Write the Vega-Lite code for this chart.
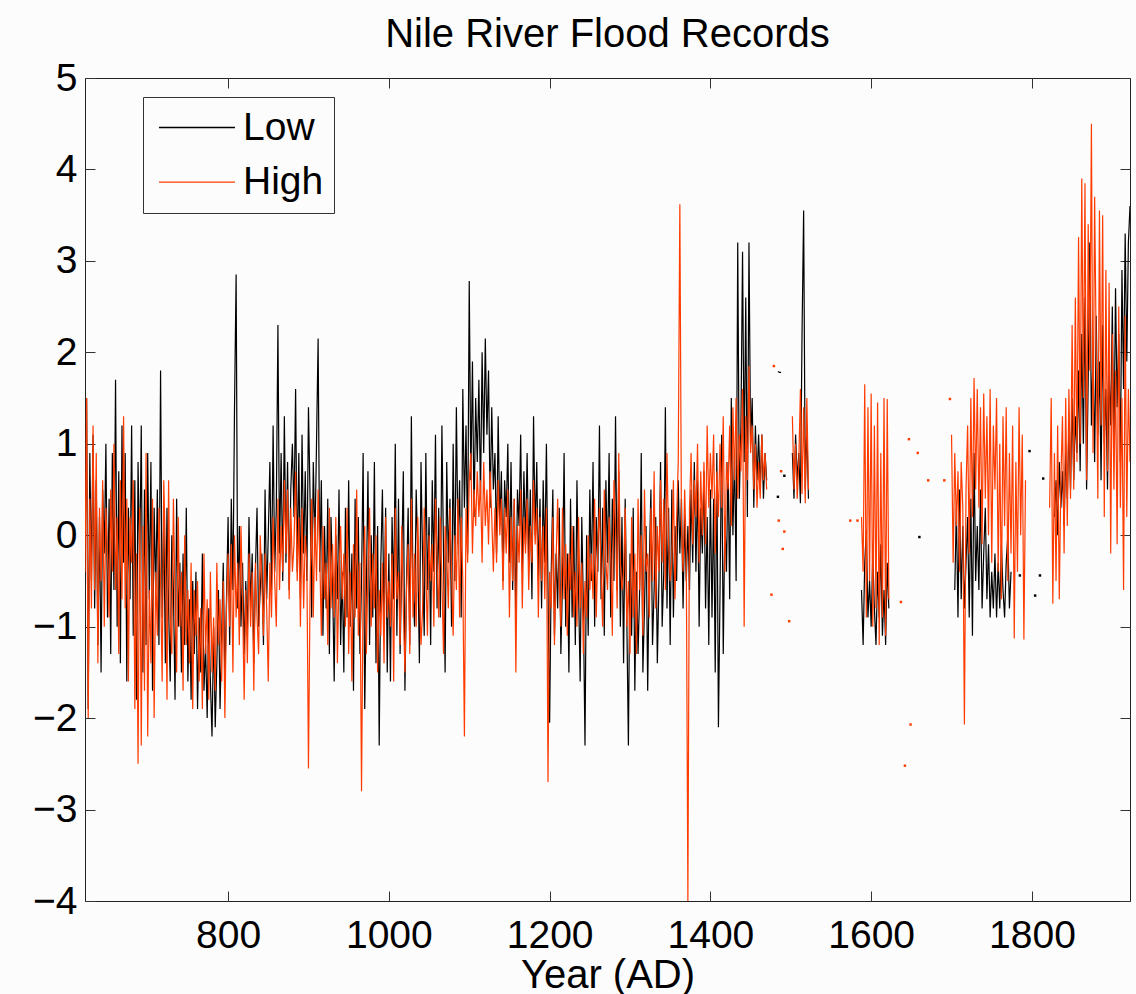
{
"$schema": "https://vega.github.io/schema/vega-lite/v6.json",
"width": 1045,
"height": 823,
"autosize": {"type": "none"},
"padding": {"left": 85, "top": 78, "right": 6, "bottom": 93},
"background": "#fcfcfc",
"title": {"text": "Nile River Flood Records", "fontSize": 40, "font": "Liberation Sans", "fontWeight": "normal", "color": "#000000", "offset": 4, "anchor": "middle"},
"datasets": {
"nile": [
{"t":622,"Low":-0.3,"High":-0.4},{"t":624,"Low":1.5,"High":1.5},{"t":626,"Low":-1.9,"High":-2.0},{"t":628,"Low":0.9,"High":0.4},{"t":630,"Low":-0.5,"High":-0.8},
{"t":632,"Low":1.1,"High":1.2},{"t":634,"Low":-0.8,"High":-0.6},{"t":636,"Low":0.6,"High":0.9},{"t":638,"Low":-1.2,"High":-1.4},{"t":640,"Low":0.2,"High":0.3},
{"t":642,"Low":-1.5,"High":-0.5},{"t":644,"Low":0.5,"High":0.6},{"t":646,"Low":-0.2,"High":-1.0},{"t":648,"Low":1.0,"High":0.3},{"t":650,"Low":-0.9,"High":-0.2},
{"t":652,"Low":0.4,"High":-0.9},{"t":654,"Low":-1.3,"High":0.5},{"t":656,"Low":0.9,"High":-0.4},{"t":658,"Low":-0.6,"High":1.0},{"t":660,"Low":1.7,"High":-0.6},
{"t":662,"Low":-1.0,"High":0.2},{"t":664,"Low":0.7,"High":-1.3},{"t":666,"Low":-1.4,"High":0.6},{"t":668,"Low":1.2,"High":-0.7},{"t":670,"Low":-0.3,"High":1.3},
{"t":672,"Low":0.9,"High":-0.8},{"t":674,"Low":-1.6,"High":0.4},{"t":676,"Low":0.3,"High":-1.6},{"t":678,"Low":-0.7,"High":0.2},{"t":680,"Low":1.2,"High":-0.3},
{"t":682,"Low":-1.1,"High":0.6},{"t":684,"Low":0.6,"High":-1.9},{"t":686,"Low":-1.8,"High":-0.2},{"t":688,"Low":0.8,"High":-2.5},{"t":690,"Low":-0.4,"High":0.3},
{"t":692,"Low":1.2,"High":-2.3},{"t":694,"Low":-1.5,"High":0.1},{"t":696,"Low":0.5,"High":-1.7},{"t":698,"Low":-1.2,"High":0.9},{"t":700,"Low":0.9,"High":-2.2},
{"t":702,"Low":-0.7,"High":-0.6},{"t":704,"Low":0.8,"High":-1.4},{"t":706,"Low":-1.7,"High":0.4},{"t":708,"Low":0.3,"High":-2.0},{"t":710,"Low":-0.6,"High":-0.4},
{"t":712,"Low":0.5,"High":-1.1},{"t":714,"Low":-1.2,"High":0.3},{"t":716,"Low":1.8,"High":-0.5},{"t":718,"Low":-0.9,"High":-1.6},{"t":720,"Low":0.2,"High":0.6},
{"t":722,"Low":-1.4,"High":-0.2},{"t":724,"Low":0.3,"High":-1.8},{"t":726,"Low":-0.8,"High":0.6},{"t":728,"Low":-1.6,"High":-0.9},{"t":730,"Low":0.0,"High":-1.3},
{"t":732,"Low":-0.6,"High":0.4},{"t":734,"Low":-1.8,"High":-0.7},{"t":736,"Low":0.4,"High":-1.5},{"t":738,"Low":-1.0,"High":0.2},{"t":740,"Low":-0.3,"High":-1.0},
{"t":742,"Low":-1.5,"High":-0.4},{"t":744,"Low":-0.2,"High":-1.7},{"t":746,"Low":-1.2,"High":0.0},{"t":748,"Low":0.3,"High":-1.2},{"t":750,"Low":-1.6,"High":-0.6},
{"t":752,"Low":-0.7,"High":-1.4},{"t":754,"Low":-1.8,"High":-0.3},{"t":756,"Low":-0.5,"High":-1.9},{"t":758,"Low":-1.3,"High":-0.6},{"t":760,"Low":-0.4,"High":-1.1},
{"t":762,"Low":-1.9,"High":-0.5},{"t":764,"Low":-0.9,"High":-1.6},{"t":766,"Low":-1.5,"High":-0.8},{"t":768,"Low":-0.2,"High":-1.9},{"t":770,"Low":-1.7,"High":-0.2},
{"t":772,"Low":-1.2,"High":-1.3},{"t":774,"Low":-2.0,"High":-0.7},{"t":776,"Low":-0.8,"High":-1.8},{"t":778,"Low":-1.6,"High":-0.4},{"t":780,"Low":-2.2,"High":-1.5},
{"t":782,"Low":-1.0,"High":-0.9},{"t":784,"Low":-2.1,"High":-1.7},{"t":786,"Low":-1.4,"High":-0.3},{"t":788,"Low":-0.6,"High":-1.2},{"t":790,"Low":-1.9,"High":-0.7},
{"t":792,"Low":-1.1,"High":-1.6},{"t":794,"Low":-0.3,"High":-0.5},{"t":796,"Low":-1.6,"High":-2.0},{"t":798,"Low":-0.7,"High":-0.8},{"t":800,"Low":0.2,"High":-0.2},
{"t":802,"Low":-1.2,"High":-1.0},{"t":804,"Low":0.4,"High":-0.1},{"t":806,"Low":-0.6,"High":-1.5},{"t":808,"Low":1.4,"High":0.0},{"t":810,"Low":2.85,"High":-0.9},
{"t":812,"Low":-0.8,"High":-0.3},{"t":814,"Low":0.1,"High":-1.2},{"t":816,"Low":-1.0,"High":0.1},{"t":818,"Low":-0.3,"High":-0.7},{"t":820,"Low":-1.3,"High":-1.8},
{"t":822,"Low":-0.5,"High":-0.6},{"t":824,"Low":-1.1,"High":-1.4},{"t":826,"Low":0.2,"High":-0.2},{"t":828,"Low":-0.8,"High":-1.0},{"t":830,"Low":-0.2,"High":-0.4},
{"t":832,"Low":-1.4,"High":-1.7},{"t":834,"Low":-0.4,"High":-0.3},{"t":836,"Low":0.3,"High":-0.9},{"t":838,"Low":-1.0,"High":-1.3},{"t":840,"Low":-0.6,"High":0.0},
{"t":842,"Low":-0.2,"High":-0.5},{"t":844,"Low":-1.2,"High":-1.1},{"t":846,"Low":0.5,"High":-0.2},{"t":848,"Low":-0.7,"High":-0.8},{"t":850,"Low":0.0,"High":-1.6},
{"t":852,"Low":0.8,"High":-0.3},{"t":854,"Low":-0.6,"High":-0.9},{"t":856,"Low":1.2,"High":0.2},{"t":858,"Low":-0.4,"High":-0.5},{"t":860,"Low":0.3,"High":-1.0},
{"t":862,"Low":2.3,"High":0.4},{"t":864,"Low":-0.2,"High":-0.6},{"t":866,"Low":0.9,"High":0.1},{"t":868,"Low":-0.5,"High":-0.4},{"t":870,"Low":1.3,"High":0.6},
{"t":872,"Low":-0.3,"High":-0.2},{"t":874,"Low":0.8,"High":0.5},{"t":876,"Low":-0.6,"High":-0.7},{"t":878,"Low":0.5,"High":0.3},{"t":880,"Low":1.0,"High":-0.4},
{"t":882,"Low":0.2,"High":-0.1},{"t":884,"Low":1.6,"High":0.7},{"t":886,"Low":-0.4,"High":-0.5},{"t":888,"Low":0.9,"High":0.2},{"t":890,"Low":-0.7,"High":-1.0},
{"t":892,"Low":1.1,"High":0.3},{"t":894,"Low":-0.2,"High":-0.8},{"t":896,"Low":0.7,"High":0.0},{"t":898,"Low":-0.5,"High":-0.3},{"t":900,"Low":1.4,"High":-2.55},
{"t":902,"Low":0.4,"High":-0.6},{"t":904,"Low":-0.9,"High":0.4},{"t":906,"Low":0.8,"High":-0.9},{"t":908,"Low":-0.1,"High":0.2},{"t":910,"Low":1.0,"High":-0.5},
{"t":912,"Low":2.15,"High":0.5},{"t":914,"Low":-0.4,"High":-0.2},{"t":916,"Low":0.6,"High":-1.1},{"t":918,"Low":-1.1,"High":0.1},{"t":920,"Low":0.1,"High":-0.7},
{"t":922,"Low":-0.8,"High":-0.3},{"t":924,"Low":0.4,"High":-1.2},{"t":926,"Low":-1.3,"High":0.3},{"t":928,"Low":0.2,"High":-0.8},{"t":930,"Low":-0.5,"High":-0.1},
{"t":932,"Low":-1.6,"High":-0.9},{"t":934,"Low":0.0,"High":0.2},{"t":936,"Low":-0.7,"High":-1.4},{"t":938,"Low":0.5,"High":-0.4},{"t":940,"Low":-1.2,"High":0.1},
{"t":942,"Low":-0.4,"High":-0.7},{"t":944,"Low":-1.5,"High":-0.2},{"t":946,"Low":0.3,"High":-1.0},{"t":948,"Low":-0.9,"High":0.3},{"t":950,"Low":0.6,"High":-1.3},
{"t":952,"Low":-1.0,"High":-0.4},{"t":954,"Low":-0.2,"High":-1.6},{"t":956,"Low":-1.7,"High":-0.1},{"t":958,"Low":0.4,"High":-0.9},{"t":960,"Low":-0.8,"High":0.5},
{"t":962,"Low":0.2,"High":-1.1},{"t":964,"Low":-1.3,"High":-0.3},{"t":966,"Low":-0.5,"High":-2.8},{"t":968,"Low":0.9,"High":-0.6},{"t":970,"Low":-1.9,"High":0.1},
{"t":972,"Low":-0.6,"High":-1.3},{"t":974,"Low":0.7,"High":-0.4},{"t":976,"Low":-1.2,"High":0.3},{"t":978,"Low":0.0,"High":-1.0},{"t":980,"Low":-0.9,"High":-0.2},
{"t":982,"Low":0.8,"High":-0.8},{"t":984,"Low":-1.4,"High":0.0},{"t":986,"Low":0.1,"High":-1.5},{"t":988,"Low":-2.3,"High":-0.6},{"t":990,"Low":-0.3,"High":-1.1},
{"t":992,"Low":0.5,"High":-0.3},{"t":994,"Low":-1.0,"High":-1.4},{"t":996,"Low":0.3,"High":0.2},{"t":998,"Low":-1.5,"High":-0.9},{"t":1000,"Low":-0.2,"High":-0.5},
{"t":1002,"Low":-1.6,"High":-1.0},{"t":1004,"Low":0.2,"High":-0.2},{"t":1006,"Low":-0.7,"High":-1.6},{"t":1008,"Low":1.0,"High":0.3},{"t":1010,"Low":-1.1,"High":-0.7},
{"t":1012,"Low":0.4,"High":-0.4},{"t":1014,"Low":-1.3,"High":-1.2},{"t":1016,"Low":-0.3,"High":0.1},{"t":1018,"Low":0.7,"High":-0.8},{"t":1020,"Low":-1.7,"High":-1.5},
{"t":1022,"Low":-0.5,"High":-0.6},{"t":1024,"Low":0.3,"High":-0.1},{"t":1026,"Low":-1.2,"High":-1.3},{"t":1028,"Low":1.3,"High":0.4},{"t":1030,"Low":-0.6,"High":-0.9},
{"t":1032,"Low":-1.0,"High":-0.2},{"t":1034,"Low":0.5,"High":-1.0},{"t":1036,"Low":-0.2,"High":0.2},{"t":1038,"Low":-1.4,"High":-0.6},{"t":1040,"Low":0.8,"High":-1.2},
{"t":1042,"Low":-0.3,"High":-0.8},{"t":1044,"Low":-1.1,"High":0.3},{"t":1046,"Low":0.9,"High":-0.4},{"t":1048,"Low":-0.6,"High":-1.1},{"t":1050,"Low":0.2,"High":0.0},
{"t":1052,"Low":-1.2,"High":-0.5},{"t":1054,"Low":0.6,"High":-0.1},{"t":1056,"Low":-0.4,"High":-1.0},{"t":1058,"Low":1.1,"High":0.4},{"t":1060,"Low":-0.8,"High":-0.3},
{"t":1062,"Low":0.3,"High":-0.9},{"t":1064,"Low":-0.9,"High":0.2},{"t":1066,"Low":1.2,"High":-0.5},{"t":1068,"Low":-0.2,"High":-1.3},{"t":1070,"Low":-1.5,"High":0.1},
{"t":1072,"Low":0.8,"High":-0.2},{"t":1074,"Low":-0.3,"High":-0.8},{"t":1076,"Low":0.4,"High":0.3},{"t":1078,"Low":-1.0,"High":-0.4},{"t":1080,"Low":1.0,"High":-1.1},
{"t":1082,"Low":-0.5,"High":0.0},{"t":1084,"Low":1.4,"High":-0.6},{"t":1086,"Low":-0.1,"High":0.4},{"t":1088,"Low":0.6,"High":-0.9},{"t":1090,"Low":-0.9,"High":0.2},
{"t":1092,"Low":1.6,"High":-0.5},{"t":1094,"Low":0.3,"High":-2.2},{"t":1096,"Low":1.2,"High":0.3},{"t":1098,"Low":-0.2,"High":-0.3},{"t":1100,"Low":2.78,"High":0.6},
{"t":1102,"Low":0.6,"High":0.9},{"t":1104,"Low":1.9,"High":-0.2},{"t":1106,"Low":0.2,"High":0.5},{"t":1108,"Low":1.5,"High":0.1},{"t":1110,"Low":0.8,"High":0.7},
{"t":1112,"Low":1.7,"High":0.2},{"t":1114,"Low":0.4,"High":0.6},{"t":1116,"Low":2.0,"High":-0.3},{"t":1118,"Low":0.9,"High":0.8},{"t":1120,"Low":2.15,"High":0.1},
{"t":1122,"Low":1.1,"High":0.5},{"t":1124,"Low":1.8,"High":-0.1},{"t":1126,"Low":0.3,"High":0.7},{"t":1128,"Low":1.4,"High":0.2},{"t":1130,"Low":0.5,"High":-0.4},
{"t":1132,"Low":0.9,"High":0.3},{"t":1134,"Low":-0.2,"High":-0.3},{"t":1136,"Low":1.3,"High":0.6},{"t":1138,"Low":0.1,"High":0.0},{"t":1140,"Low":0.7,"High":0.4},
{"t":1142,"Low":-0.5,"High":-0.6},{"t":1144,"Low":0.6,"High":0.3},{"t":1146,"Low":0.2,"High":-0.2},{"t":1148,"Low":1.0,"High":0.5},{"t":1150,"Low":-0.3,"High":-0.9},
{"t":1152,"Low":0.8,"High":0.2},{"t":1154,"Low":-0.6,"High":-0.5},{"t":1156,"Low":0.4,"High":0.4},{"t":1158,"Low":-0.9,"High":-1.5},{"t":1160,"Low":0.5,"High":0.1},
{"t":1162,"Low":0.1,"High":-0.3},{"t":1164,"Low":1.1,"High":0.5},{"t":1166,"Low":-0.4,"High":-0.8},{"t":1168,"Low":0.7,"High":0.2},{"t":1170,"Low":-0.1,"High":-0.2},
{"t":1172,"Low":0.9,"High":0.4},{"t":1174,"Low":-0.3,"High":-0.6},{"t":1176,"Low":0.5,"High":0.1},{"t":1178,"Low":-0.7,"High":-0.3},{"t":1180,"Low":1.3,"High":0.6},
{"t":1182,"Low":0.0,"High":-0.1},{"t":1184,"Low":0.8,"High":0.3},{"t":1186,"Low":-0.5,"High":-0.9},{"t":1188,"Low":0.4,"High":0.2},{"t":1190,"Low":-0.8,"High":-0.5},
{"t":1192,"Low":0.6,"High":0.1},{"t":1194,"Low":-0.3,"High":-0.7},{"t":1196,"Low":1.0,"High":0.3},{"t":1198,"Low":-0.6,"High":-2.7},{"t":1200,"Low":-2.05,"High":-0.4},
{"t":1202,"Low":-0.4,"High":-0.8},{"t":1204,"Low":0.5,"High":0.2},{"t":1206,"Low":-1.1,"High":-1.2},{"t":1208,"Low":-0.2,"High":-0.3},{"t":1210,"Low":-0.8,"High":0.4},
{"t":1212,"Low":0.3,"High":-0.5},{"t":1214,"Low":-1.3,"High":-1.0},{"t":1216,"Low":-0.5,"High":0.3},{"t":1218,"Low":0.9,"High":-0.7},{"t":1220,"Low":-1.0,"High":-0.1},
{"t":1222,"Low":-0.2,"High":-1.1},{"t":1224,"Low":-1.5,"High":-0.2},{"t":1226,"Low":0.4,"High":-0.6},{"t":1228,"Low":-0.9,"High":0.1},{"t":1230,"Low":0.1,"High":-0.9},
{"t":1232,"Low":-1.2,"High":-0.4},{"t":1234,"Low":0.6,"High":-1.0},{"t":1236,"Low":-0.6,"High":0.2},{"t":1238,"Low":-1.6,"High":-0.8},{"t":1240,"Low":0.2,"High":-0.3},
{"t":1242,"Low":-0.8,"High":-1.3},{"t":1244,"Low":-2.3,"High":-0.5},{"t":1246,"Low":0.0,"High":-0.9},{"t":1248,"Low":-1.1,"High":0.0},{"t":1250,"Low":0.5,"High":-0.6},
{"t":1252,"Low":-0.5,"High":-0.2},{"t":1254,"Low":0.8,"High":-0.7},{"t":1256,"Low":-1.0,"High":0.4},{"t":1258,"Low":0.2,"High":-0.9},{"t":1260,"Low":-0.4,"High":-0.1},
{"t":1262,"Low":1.2,"High":0.3},{"t":1264,"Low":-0.7,"High":-0.4},{"t":1266,"Low":0.3,"High":-1.0},{"t":1268,"Low":-1.1,"High":0.5},{"t":1270,"Low":0.6,"High":-0.3},
{"t":1272,"Low":-0.3,"High":-0.6},{"t":1274,"Low":0.9,"High":0.2},{"t":1276,"Low":-0.9,"High":-0.2},{"t":1278,"Low":0.4,"High":-1.1},{"t":1280,"Low":-0.5,"High":0.6},
{"t":1282,"Low":1.3,"High":0.1},{"t":1284,"Low":-0.6,"High":-0.8},{"t":1286,"Low":0.7,"High":0.9},{"t":1288,"Low":-1.0,"High":-0.3},{"t":1290,"Low":0.2,"High":-0.6},
{"t":1292,"Low":-1.4,"High":-0.4},{"t":1294,"Low":0.4,"High":0.3},{"t":1296,"Low":-0.9,"High":-1.0},{"t":1298,"Low":-2.3,"High":-0.5},{"t":1300,"Low":-0.2,"High":-1.3},
{"t":1302,"Low":-1.1,"High":0.2},{"t":1304,"Low":0.3,"High":-0.9},{"t":1306,"Low":-1.7,"High":-0.2},{"t":1308,"Low":-0.4,"High":-1.3},{"t":1310,"Low":-1.3,"High":0.4},
{"t":1312,"Low":-0.6,"High":-0.6},{"t":1314,"Low":0.9,"High":0.0},{"t":1316,"Low":-1.5,"High":-1.1},{"t":1318,"Low":-0.8,"High":0.5},{"t":1320,"Low":0.1,"High":-0.4},
{"t":1322,"Low":-1.7,"High":-0.2},{"t":1324,"Low":-0.3,"High":-0.9},{"t":1326,"Low":0.5,"High":0.3},{"t":1328,"Low":-1.2,"High":-0.5},{"t":1330,"Low":-0.6,"High":0.7},
{"t":1332,"Low":0.2,"High":-0.8},{"t":1334,"Low":-1.4,"High":0.1},{"t":1336,"Low":-0.5,"High":-0.4},{"t":1338,"Low":0.8,"High":0.6},{"t":1340,"Low":-1.0,"High":-0.3},
{"t":1342,"Low":-0.4,"High":0.4},{"t":1344,"Low":1.4,"High":-0.6},{"t":1346,"Low":-0.8,"High":0.9},{"t":1348,"Low":0.3,"High":-0.1},{"t":1350,"Low":-1.2,"High":-0.5},
{"t":1352,"Low":0.5,"High":-0.3},{"t":1354,"Low":-0.9,"High":0.6},{"t":1356,"Low":0.1,"High":-0.7},{"t":1358,"Low":-0.5,"High":0.2},{"t":1360,"Low":0.6,"High":0.8},
{"t":1362,"Low":-0.2,"High":3.62},{"t":1364,"Low":0.4,"High":0.1},{"t":1366,"Low":-0.8,"High":-0.4},{"t":1368,"Low":0.2,"High":0.5},{"t":1370,"Low":-0.5,"High":-0.2},
{"t":1372,"Low":0.1,"High":-4.0},{"t":1374,"Low":-0.6,"High":0.3},{"t":1376,"Low":0.5,"High":0.9},{"t":1378,"Low":-0.3,"High":-0.1},{"t":1380,"Low":0.8,"High":0.6},
{"t":1382,"Low":-0.4,"High":0.2},{"t":1384,"Low":0.6,"High":1.0},{"t":1386,"Low":-1.0,"High":-0.3},{"t":1388,"Low":0.3,"High":0.7},{"t":1390,"Low":-0.2,"High":0.0},
{"t":1392,"Low":0.7,"High":0.8},{"t":1394,"Low":-0.8,"High":-0.1},{"t":1396,"Low":0.2,"High":1.2},{"t":1398,"Low":-1.2,"High":0.3},{"t":1400,"Low":0.5,"High":0.9},
{"t":1402,"Low":-0.9,"High":0.4},{"t":1404,"Low":0.4,"High":1.1},{"t":1406,"Low":-1.5,"High":-0.2},{"t":1408,"Low":0.9,"High":0.7},{"t":1410,"Low":-2.1,"High":0.2},
{"t":1412,"Low":-0.6,"High":1.0},{"t":1414,"Low":1.1,"High":0.3},{"t":1416,"Low":-1.3,"High":1.3},{"t":1418,"Low":0.2,"High":-0.4},{"t":1420,"Low":-0.4,"High":0.8},
{"t":1422,"Low":0.8,"High":0.5},{"t":1424,"Low":-0.7,"High":1.2},{"t":1426,"Low":1.5,"High":0.1},{"t":1428,"Low":0.0,"High":1.4},{"t":1430,"Low":0.9,"High":0.6},
{"t":1432,"Low":-0.5,"High":1.5},{"t":1434,"Low":3.2,"High":0.4},{"t":1436,"Low":0.4,"High":1.1},{"t":1438,"Low":1.2,"High":0.7},{"t":1440,"Low":3.1,"High":1.6},
{"t":1442,"Low":0.8,"High":-1.0},{"t":1444,"Low":2.6,"High":1.3},{"t":1446,"Low":0.2,"High":0.6},{"t":1448,"Low":3.2,"High":1.85},{"t":1450,"Low":1.0,"High":0.9},
{"t":1452,"Low":1.5,"High":1.2},{"t":1454,"Low":0.3,"High":0.5},{"t":1456,"Low":1.2,"High":1.0},{"t":1458,"Low":0.6,"High":0.3},{"t":1460,"Low":1.1,"High":0.8},
{"t":1462,"Low":0.5,"High":0.4},{"t":1464,"Low":1.1,"High":1.1},{"t":1466,"Low":0.4,"High":0.6},{"t":1468,"Low":0.9,"High":0.9},{"t":1470,"Low":0.6,"High":0.5},
{"t":1472},
{"t":1484,"Low":1.79},{"t":1486,"Low":1.78},{"t":1488,"Low":1.78},{"t":1490},
{"t":1502,"Low":0.9,"High":1.3},{"t":1504,"Low":0.4,"High":0.5},{"t":1506,"Low":1.1,"High":1.0},{"t":1508,"Low":0.6,"High":0.4},{"t":1510,"Low":0.9,"High":0.8},{"t":1512,"Low":0.35,"High":1.6},{"t":1514,"Low":2.2,"High":0.45},{"t":1516,"Low":3.55,"High":1.4},{"t":1518,"Low":0.5,"High":0.35},{"t":1520,"Low":1.2,"High":1.5},{"t":1522,"Low":0.4,"High":0.5},{"t":1524},
{"t":1588,"Low":-0.6,"High":0.2},{"t":1590,"Low":-1.2,"High":-0.4},{"t":1592,"Low":-0.3,"High":1.65},{"t":1594,"Low":0.05,"High":-0.9},{"t":1596,"Low":-0.9,"High":1.4},{"t":1598,"Low":-0.5,"High":-0.5},{"t":1600,"Low":-1.0,"High":1.55},{"t":1602,"Low":-0.2,"High":-1.0},{"t":1604,"Low":-0.8,"High":1.2},{"t":1606,"Low":-1.2,"High":-0.8},{"t":1608,"Low":-0.4,"High":1.45},{"t":1610,"Low":-0.9,"High":-1.2},{"t":1612,"Low":-0.1,"High":0.9},{"t":1614,"Low":-1.1,"High":-0.9},{"t":1616,"Low":-0.6,"High":1.5},{"t":1618,"Low":-1.2,"High":-1.1},{"t":1620,"Low":-0.3,"High":1.49},{"t":1622,"Low":-0.8,"High":-0.7},{"t":1624},
{"t":1700,"High":1.1},{"t":1702,"High":-0.3},{"t":1704,"Low":-0.6,"High":0.9},{"t":1706,"Low":0.3,"High":0.1},{"t":1708,"Low":-0.9,"High":0.7},{"t":1710,"Low":0.5,"High":-0.4},{"t":1712,"Low":-0.7,"High":0.8},{"t":1714,"Low":0.1,"High":0.3},{"t":1716,"Low":-0.8,"High":-2.07},{"t":1718,"Low":-0.3,"High":0.5},{"t":1720,"Low":0.2,"High":1.2},
{"t":1722,"Low":-0.9,"High":-0.2},{"t":1724,"Low":0.4,"High":1.5},{"t":1726,"Low":-1.1,"High":0.2},{"t":1728,"Low":0.9,"High":1.72},{"t":1730,"Low":-0.5,"High":0.5},{"t":1732,"Low":0.1,"High":1.6},{"t":1734,"Low":-0.6,"High":0.3},{"t":1736,"Low":0.5,"High":1.4},{"t":1738,"Low":-0.8,"High":-0.1},{"t":1740,"Low":-0.2,"High":1.55},
{"t":1742,"Low":0.3,"High":0.4},{"t":1744,"Low":-0.7,"High":1.3},{"t":1746,"Low":-0.1,"High":0.0},{"t":1748,"Low":-0.9,"High":1.6},{"t":1750,"Low":-0.4,"High":-0.3},{"t":1752,"Low":-0.8,"High":1.2},{"t":1754,"Low":-0.2,"High":0.5},{"t":1756,"Low":-0.9,"High":1.5},{"t":1758,"Low":-0.3,"High":-0.4},{"t":1760,"Low":-0.8,"High":1.0},
{"t":1762,"Low":-0.1,"High":-0.7},{"t":1764,"Low":-0.6,"High":1.3},{"t":1766,"Low":-0.9,"High":0.1},{"t":1768,"Low":-0.3,"High":1.4},{"t":1770,"Low":0.0,"High":-0.5},{"t":1772,"Low":-0.8,"High":0.9},{"t":1774,"Low":-0.4,"High":-0.2},{"t":1776,"High":1.2},{"t":1778,"High":-1.13},{"t":1780,"High":0.8},
{"t":1782,"High":-0.4},{"t":1784,"High":1.4},{"t":1786,"High":0.0},{"t":1788,"High":1.1},{"t":1790,"High":-1.14},{"t":1792,"High":0.6},{"t":1794},
{"t":1822,"High":0.3},{"t":1824,"High":1.5},{"t":1826,"High":-0.75},{"t":1828,"Low":0.2,"High":0.9},{"t":1830,"Low":0.6,"High":-0.5},{"t":1832,"Low":0.0,"High":1.2},{"t":1834,"Low":0.8,"High":-0.7},{"t":1836,"Low":0.3,"High":0.6},{"t":1838,"Low":0.7,"High":1.3},{"t":1840,"Low":0.1,"High":-0.2},
{"t":1842,"Low":0.9,"High":1.5},{"t":1844,"Low":0.4,"High":0.1},{"t":1846,"Low":1.2,"High":1.6},{"t":1848,"Low":0.5,"High":0.4},{"t":1850,"Low":1.5,"High":2.3},{"t":1852,"Low":0.6,"High":0.5},{"t":1854,"Low":1.3,"High":2.6},{"t":1856,"Low":0.9,"High":0.8},{"t":1858,"Low":1.8,"High":3.26},{"t":1860,"Low":0.7,"High":1.0},
{"t":1862,"Low":2.2,"High":3.9},{"t":1864,"Low":1.0,"High":1.5},{"t":1866,"Low":2.6,"High":3.85},{"t":1868,"Low":0.5,"High":0.6},{"t":1870,"Low":1.7,"High":3.4},{"t":1872,"Low":3.2,"High":1.8},{"t":1874,"Low":1.2,"High":4.5},{"t":1876,"Low":2.0,"High":0.9},{"t":1878,"Low":0.8,"High":3.7},{"t":1880,"Low":2.4,"High":2.0},
{"t":1882,"Low":1.1,"High":0.4},{"t":1884,"Low":1.9,"High":3.55},{"t":1886,"Low":0.6,"High":1.2},{"t":1888,"Low":2.3,"High":3.5},{"t":1890,"Low":1.0,"High":0.2},{"t":1892,"Low":1.6,"High":2.9},{"t":1894,"Low":0.5,"High":0.7},{"t":1896,"Low":1.8,"High":2.76},{"t":1898,"Low":1.2,"High":-0.2},{"t":1900,"Low":2.5,"High":2.2},
{"t":1902,"Low":0.9,"High":0.5},{"t":1904,"Low":2.7,"High":1.8},{"t":1906,"Low":1.4,"High":-0.1},{"t":1908,"Low":2.2,"High":2.5},{"t":1910,"Low":0.8,"High":0.3},{"t":1912,"Low":2.9,"High":1.5},{"t":1914,"Low":1.6,"High":-0.6},{"t":1916,"Low":3.3,"High":2.4},{"t":1918,"Low":1.9,"High":0.2},{"t":1920,"Low":3.2,"High":1.6},
{"t":1922,"Low":3.6,"High":0.8}
],
"iso": [
{"t":1476,"series":"High","v":-0.65},{"t":1479,"series":"High","v":1.85},{"t":1485,"series":"High","v":0.16},{"t":1488,"series":"High","v":0.7},{"t":1490,"series":"High","v":-0.15},{"t":1492,"series":"High","v":0.04},{"t":1498,"series":"High","v":-0.94},
{"t":1574,"series":"High","v":0.16},{"t":1583,"series":"High","v":0.16},{"t":1637,"series":"High","v":-0.73},{"t":1642,"series":"High","v":-2.52},{"t":1647,"series":"High","v":1.05},{"t":1649,"series":"High","v":-2.07},{"t":1658,"series":"High","v":0.9},{"t":1671,"series":"High","v":0.6},{"t":1691,"series":"High","v":0.6},{"t":1698,"series":"High","v":1.49},
{"t":1484,"series":"Low","v":0.42},{"t":1492,"series":"Low","v":0.65},{"t":1660,"series":"Low","v":-0.02},{"t":1785,"series":"Low","v":-0.44},{"t":1797,"series":"Low","v":0.92},{"t":1804,"series":"Low","v":-0.66},{"t":1810,"series":"Low","v":-0.44},{"t":1814,"series":"Low","v":0.62}
]
},
"layer": [
{
"data": {"name": "nile"},
"mark": {"type": "line", "strokeWidth": 1.2, "clip": true, "invalid": "break-paths-filter-domains"},
"encoding": {
"x": {"field": "t", "type": "quantitative", "scale": {"domain": [622, 1922], "nice": false, "zero": false},
"axis": {"orient": "bottom", "values": [800, 1000, 1200, 1400, 1600, 1800], "format": "d", "title": "Year (AD)", "labelPadding": 25, "titlePadding": 0}},
"y": {"field": "Low", "type": "quantitative", "scale": {"domain": [-4, 5], "nice": false, "zero": false},
"axis": {"orient": "left", "values": [-4, -3, -2, -1, 0, 1, 2, 3, 4, 5], "format": "d", "title": null, "labelPadding": 18}},
"color": {"datum": "Low", "type": "nominal", "title": null, "scale": {"domain": ["Low", "High"], "range": ["#000000", "#ff3c00"]},
"legend": {"title": null, "orient": "none", "legendX": 58, "legendY": 19, "symbolType": "stroke", "symbolSize": 5776, "symbolStrokeWidth": 1.3, "clipHeight": 41, "rowPadding": 13.6, "padding": 10, "symbolOffset": 5, "labelOffset": 7, "strokeColor": "#333333", "fillColor": "#fcfcfc", "labelFont": "Liberation Sans", "labelFontSize": 39, "labelColor": "#000000"}}
}
},
{
"data": {"name": "nile"},
"mark": {"type": "line", "strokeWidth": 1.2, "clip": true, "invalid": "break-paths-filter-domains"},
"encoding": {
"x": {"field": "t", "type": "quantitative", "axis": null},
"y": {"field": "High", "type": "quantitative", "axis": null},
"color": {"datum": "High", "type": "nominal", "title": null}
}
},
{
"data": {"name": "iso"},
"mark": {"type": "square", "size": 6, "opacity": 1, "clip": true},
"encoding": {
"x": {"field": "t", "type": "quantitative", "axis": {"orient": "top", "values": [800, 1000, 1200, 1400, 1600, 1800], "labels": false, "title": null}},
"y": {"field": "v", "type": "quantitative", "axis": {"orient": "right", "values": [-4, -3, -2, -1, 0, 1, 2, 3, 4, 5], "labels": false, "title": null}},
"color": {"field": "series", "type": "nominal", "title": null}
}
}
],
"resolve": {"axis": {"x": "independent", "y": "independent"}},
"config": {
"view": {"stroke": "#222222", "strokeWidth": 1, "fill": "#fcfcfc"},
"axis": {"domain": false, "grid": false, "ticks": true, "tickSize": -10, "tickColor": "#333333", "tickWidth": 1, "labelFont": "Liberation Sans", "labelFontSize": 39, "labelColor": "#000000", "titleFont": "Liberation Sans", "titleFontSize": 40, "titleFontWeight": "normal", "titleColor": "#000000", "labelFlush": false, "labelOverlap": false},
"legend": {"title": null}
}
}
